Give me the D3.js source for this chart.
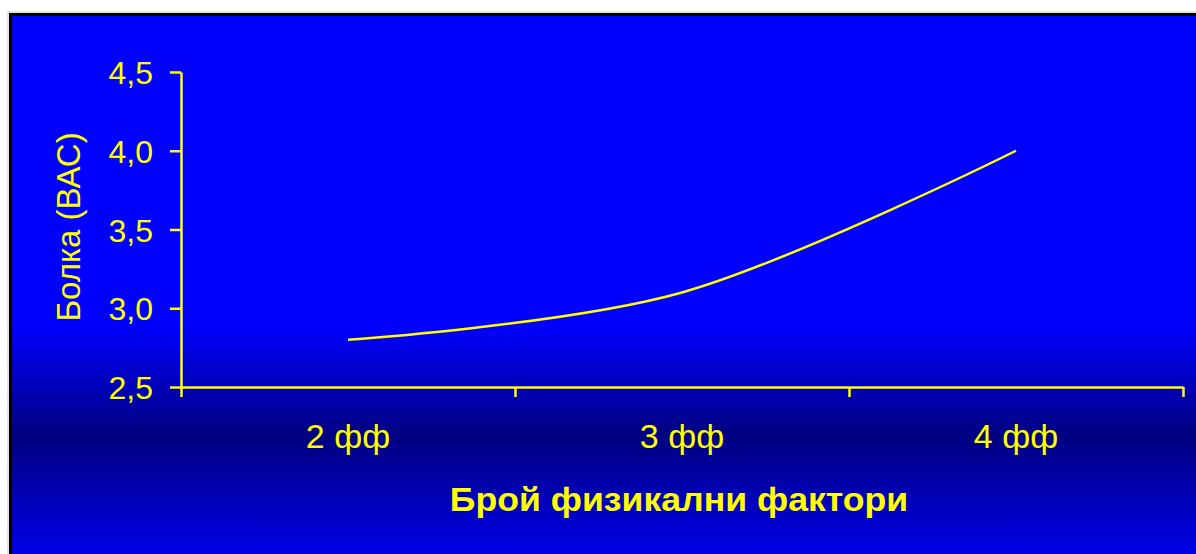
<!DOCTYPE html>
<html>
<head>
<meta charset="utf-8">
<script src="https://cdn.jsdelivr.net/npm/d3@7"></script>
<style>
  html, body { margin: 0; padding: 0; background: #ffffff; }
  svg { display: block; }
  text { font-family: "Liberation Sans", Arial, sans-serif; fill: #ffff00; }
</style>
</head>
<body>
<svg id="chart" width="1196" height="554"></svg>
<script>
// ---- data ----
const categories = ["2 фф", "3 фф", "4 фф"];
const painValues = [2.8, 3.1, 4.0];
const yTickValues = [2.5, 3.0, 3.5, 4.0, 4.5];
const yAxisTitle = "Болка (ВАС)";
const xAxisTitle = "Брой физикални фактори";

// ---- layout ----
const W = 1196, H = 554;
const plot = { left: 181, right: 1183, top: 72, bottom: 387 };
const YELLOW = "#ffff00";

const svg = d3.select("#chart");

// background gradient
const defs = svg.append("defs");
const grad = defs.append("linearGradient")
  .attr("id", "bg").attr("gradientUnits", "userSpaceOnUse")
  .attr("x1", 0).attr("y1", 0).attr("x2", 0).attr("y2", H);
[[0, "#0000ff"], [325, "#0000ff"], [435, "#000080"], [554, "#0000e6"]].forEach(([y, c]) => {
  grad.append("stop").attr("offset", y / H).attr("stop-color", c);
});

svg.append("rect").attr("x", 8).attr("y", 12).attr("width", W + 20).attr("height", H + 20)
  .attr("fill", "none").attr("stroke", "#c8c8c8").attr("stroke-width", 1);
svg.append("rect").attr("x", 10.5).attr("y", 14.5).attr("width", W + 20).attr("height", H + 20)
  .attr("fill", "url(#bg)").attr("stroke", "#000000").attr("stroke-width", 3);

// scales
const x = d3.scaleBand().domain(categories).range([plot.left, plot.right]).padding(0);
const xEdges = d3.scaleLinear().domain([0, categories.length]).range([plot.left, plot.right]);
const y = d3.scaleLinear().domain([2.5, 4.5]).range([plot.bottom, plot.top]);

const fmt = v => d3.format(".1f")(v).replace(".", ",");

// y axis
const yAxis = svg.append("g").attr("transform", `translate(${plot.left},0)`)
  .call(d3.axisLeft(y).tickValues(yTickValues).tickFormat(fmt).tickSize(11).tickSizeOuter(0).tickPadding(17));
yAxis.select(".domain").attr("stroke", YELLOW).attr("stroke-width", 2.5);
yAxis.selectAll(".tick line").attr("stroke", YELLOW).attr("stroke-width", 2.5);
yAxis.selectAll(".tick text").attr("fill", YELLOW).attr("font-size", 32)
  .attr("font-family", "Liberation Sans, Arial, sans-serif").attr("dy", "0.36em");

// x axis: ticks at category boundaries
const xTicks = svg.append("g").attr("transform", `translate(0,${plot.bottom})`)
  .call(d3.axisBottom(xEdges).tickValues(d3.range(categories.length + 1)).tickFormat("").tickSize(10).tickSizeOuter(0));
xTicks.select(".domain").attr("stroke", YELLOW).attr("stroke-width", 2.5);
xTicks.selectAll(".tick line").attr("stroke", YELLOW).attr("stroke-width", 2.5);

// x labels at band centres
const xLabels = svg.append("g").attr("transform", `translate(0,${plot.bottom})`)
  .call(d3.axisBottom(x).tickSize(0).tickPadding(37));
xLabels.select(".domain").remove();
xLabels.selectAll(".tick text").attr("fill", YELLOW).attr("font-size", 34)
  .attr("font-family", "Liberation Sans, Arial, sans-serif");

// line
const line = d3.line()
  .x((d, i) => x(categories[i]) + x.bandwidth() / 2)
  .y(d => y(d))
  .curve(d3.curveCardinal.tension(0));
svg.append("path").datum(painValues)
  .attr("d", line).attr("fill", "none").attr("stroke", YELLOW).attr("stroke-width", 2.5);

// axis titles
svg.append("text")
  .attr("transform", "translate(80,227) rotate(-90)")
  .attr("text-anchor", "middle").attr("font-size", 33)
  .text(yAxisTitle);

svg.append("text")
  .attr("transform", "translate(679,511) scale(1.08,1)")
  .attr("text-anchor", "middle").attr("font-size", 33).attr("font-weight", "bold")
  .text(xAxisTitle);
</script>
</body>
</html>
